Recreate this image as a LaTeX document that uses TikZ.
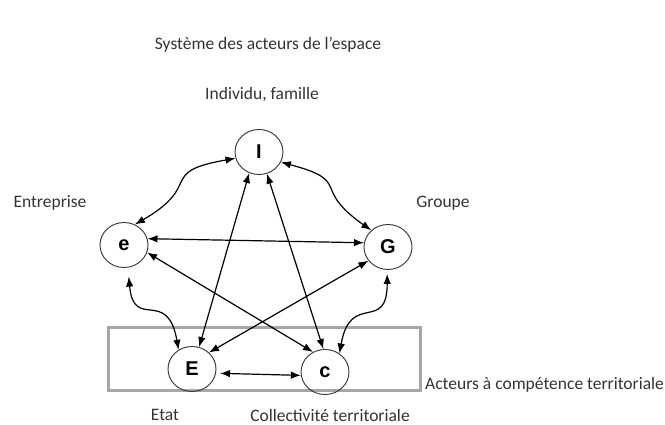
\documentclass[tikz,border=0pt]{standalone}
\usepackage{fontspec}
\setmainfont{Carlito}
\newfontfamily\lettre{Liberation Sans}
\usetikzlibrary{shapes.geometric,arrows.meta}

\begin{document}
\begin{tikzpicture}[x = 1pt, y = 1pt,
  acteur/.style = {draw = black!80, line width = 0.9pt, ellipse, minimum width = 48pt, minimum height = 45pt, inner sep = 0pt, font = \lettre\bfseries\fontsize{20}{20}\selectfont},
  lien/.style = {{Latex[length = 10pt, width = 7.5pt]}-{Latex[length = 10pt, width = 7.5pt]}, line width = 1.2pt},
  texte/.style = {font = \fontsize{17.5}{20}\selectfont, text = black!80, inner sep = 0pt}]
\useasboundingbox (0,0) rectangle (665,425);

\draw[gray!70, line width = 3pt] (108,34) rectangle (420,97);

\node[acteur] (I) at (259,273) {I};
\node[acteur] (e) at (124,180) {e};
\node[acteur] (G) at (388,178) {G};
\node[acteur] (E) at (192,56) {E};
\node[acteur] (c) at (325,53) {c};

\node[texte] (titre) at (268,380) {Système des acteurs de l’espace};
\node[texte] (individu) at (262,330) {Individu, famille};
\node[texte] (entreprise) at (50,222) {Entreprise};
\node[texte] (groupe) at (443,222) {Groupe};
\node[texte, anchor = west] (acteurs) at (425,40) {Acteurs à compétence territoriale};
\node[texte] (etat) at (165,10) {Etat};
\node[texte] (collectivite) at (330,10) {Collectivité territoriale};

\draw[lien] (e.62) to[out = 30, in = 190, looseness = 1.7] (I.195);
\draw[lien] (I.335) to[out = -15, in = 145, looseness = 1.7] (G.135);
\draw[lien, shorten < = 9pt] (e.280) to[out = -85, in = 100, looseness = 1.7] (E.125);
\draw[lien, shorten < = 4pt] (G.268) to[out = -90, in = 80, looseness = 1.7] (c.52);

\draw[lien] (e.15) -- (G.170);
\draw[lien] (e.-18) -- (c.121);
\draw[lien] (G.215) -- (E.44);
\draw[lien] (I.245) -- (E.72);
\draw[lien] (I.290) -- (c.94);
\draw[lien, shorten < = 4pt] (E.350) -- (c.188);

\end{tikzpicture}
\end{document}
